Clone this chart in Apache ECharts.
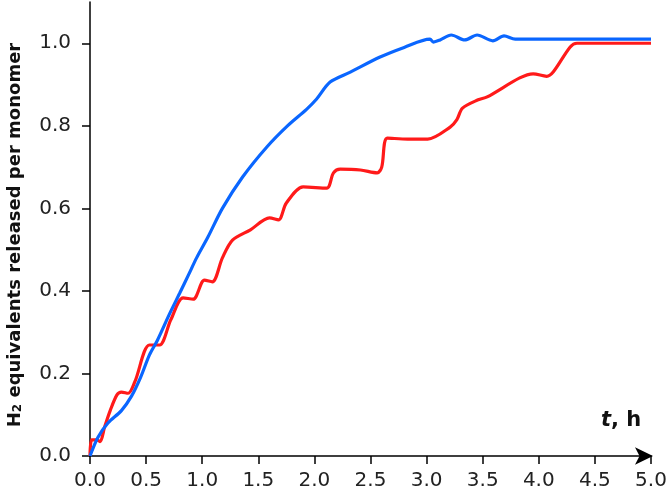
<!DOCTYPE html>
<html>
<head>
<meta charset="utf-8">
<script src="https://cdn.jsdelivr.net/npm/echarts@6/dist/echarts.min.js"></script>
<style>html,body{margin:0;padding:0;background:#fff}#c{width:672px;height:497px}</style>
</head>
<body>
<div id="c"></div>
<script>
var xTicks = [0, 0.5, 1, 1.5, 2, 2.5, 3, 3.5, 4, 4.5, 5];
var yTicks = [0, 0.2, 0.4, 0.6, 0.8, 1.0];
var blueData = [[0,0],[0.07,0.045],[0.16,0.08],[0.28,0.11],[0.37,0.145],[0.45,0.19],[0.53,0.245],[0.6,0.28],[0.71,0.345],[0.8,0.395],[0.88,0.44],[0.95,0.48],[1.05,0.53],[1.18,0.6],[1.36,0.676],[1.58,0.75],[1.76,0.8],[1.93,0.84],[2.02,0.865],[2.14,0.906],[2.32,0.93],[2.58,0.966],[2.8,0.99],[3.03,1.01],[3.06,1.003],[3.12,1.008],[3.22,1.02],[3.34,1.008],[3.45,1.02],[3.59,1.006],[3.69,1.018],[3.79,1.01],[5.0,1.01]];
var redData = [[0,0],[0.015,0.039],[0.06,0.039],[0.09,0.035],[0.13,0.07],[0.18,0.11],[0.24,0.148],[0.28,0.155],[0.34,0.152],[0.4,0.18],[0.53,0.269],[0.62,0.269],[0.72,0.33],[0.83,0.383],[0.92,0.38],[1.02,0.426],[1.09,0.422],[1.18,0.48],[1.27,0.523],[1.43,0.548],[1.6,0.577],[1.68,0.572],[1.75,0.613],[1.9,0.652],[2.11,0.649],[2.17,0.686],[2.23,0.695],[2.41,0.693],[2.56,0.686],[2.6,0.7],[2.65,0.77],[2.83,0.768],[3.01,0.768],[3.21,0.797],[3.27,0.815],[3.32,0.843],[3.46,0.863],[3.54,0.87],[3.83,0.916],[3.95,0.926],[4.07,0.92],[4.13,0.931],[4.28,0.991],[4.34,1.0],[5.0,1.0]];

var chart = echarts.init(document.getElementById('c'));
chart.setOption({
  animation: false,
  grid: { left: 90, right: 21, top: 2, bottom: 41, containLabel: false, outerBoundsMode: 'none' },
  xAxis: {
    type: 'value', min: 0, max: 5, interval: 0.5,
    splitLine: { show: false },
    axisLine: { show: true, lineStyle: { color: '#000', width: 1.5 }, symbol: ['none', 'arrow'], symbolSize: [13, 18], symbolOffset: [0, 2] },
    axisTick: { show: true, length: 8, lineStyle: { color: '#000', width: 1.5 }, customValues: xTicks },
    axisLabel: { color: '#222', fontFamily: 'DejaVu Sans', fontSize: 20, margin: 15, customValues: xTicks,
      formatter: function (v) { return v.toFixed(1); } }
  },
  yAxis: {
    type: 'value', min: 0, max: 1.1,
    splitLine: { show: false },
    axisLine: { show: true, lineStyle: { color: '#000', width: 1.5 } },
    axisTick: { show: true, length: 8, lineStyle: { color: '#000', width: 1.5 }, customValues: yTicks },
    axisLabel: { color: '#222', fontFamily: 'DejaVu Sans', fontSize: 20, margin: 19, customValues: yTicks,
      formatter: function (v) { return v.toFixed(1); } },
    name: '{h|H}{s|2}{h| equivalents released per monomer}',
    nameLocation: 'middle',
    nameGap: 66,
    nameRotate: 90,
    nameTextStyle: {
      padding: [0, 12, 0, 0],
      rich: {
        h: { fontFamily: 'DejaVu Sans', fontWeight: 'bold', fontSize: 18, color: '#111', verticalAlign: 'bottom', lineHeight: 22 },
        s: { fontFamily: 'DejaVu Sans', fontWeight: 'bold', fontSize: 12, color: '#111', verticalAlign: 'bottom', lineHeight: 14 }
      }
    }
  },
  graphic: [{
    type: 'text', left: 601, top: 410,
    style: { text: '{i|t}{b|, h}', rich: {
      i: { fontFamily: 'DejaVu Sans', fontWeight: 'bold', fontStyle: 'italic', fontSize: 21, fill: '#111' },
      b: { fontFamily: 'DejaVu Sans', fontWeight: 'bold', fontSize: 21, fill: '#111' }
    } }
  }],
  series: [
    { type: 'line', data: redData, showSymbol: false, smooth: 0.3, lineStyle: { color: '#ff1a1a', width: 3.2 } },
    { type: 'line', data: blueData, showSymbol: false, smooth: 0.3, lineStyle: { color: '#0a66ff', width: 3.2 } }
  ]
});
</script>
</body>
</html>
